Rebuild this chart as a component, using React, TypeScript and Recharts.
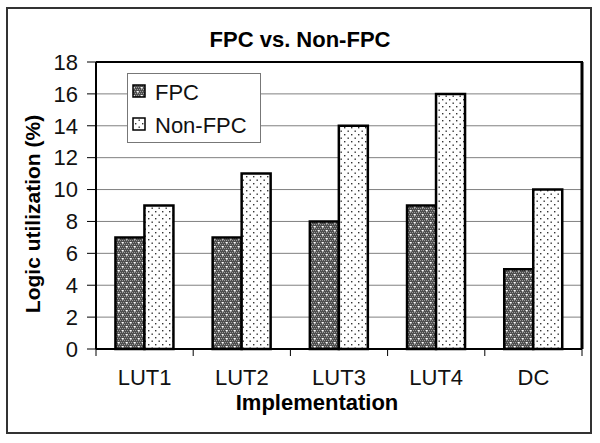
import React from "react"
import { Bar, BarChart, CartesianGrid, Legend, XAxis, YAxis } from "recharts"

const categories = ["LUT1", "LUT2", "LUT3", "LUT4", "DC"]
const fpcValues = [7, 7, 8, 9, 5]
const nonFpcValues = [9, 11, 14, 16, 10]
const yTicks = [0, 2, 4, 6, 8, 10, 12, 14, 16, 18]

const data = categories.map((name, i) => ({
    name,
    fpc: fpcValues[i],
    nonFpc: nonFpcValues[i],
}))

const FONT = '"Liberation Sans", Arial, sans-serif'
const PLOT_LEFT = 96
const PLOT_RIGHT = 582
const PLOT_TOP = 62
const PLOT_BOTTOM = 349
const BAND = (PLOT_RIGHT - PLOT_LEFT) / categories.length

function XTick(props: any) {
    const { x, index, payload } = props
    const half = BAND / 2
    return (
        <g>
            <line x1={x - half} x2={x - half} y1={PLOT_BOTTOM} y2={PLOT_BOTTOM + 7} stroke="#000" />
            {index === categories.length - 1 && (
                <line x1={x + half} x2={x + half} y1={PLOT_BOTTOM} y2={PLOT_BOTTOM + 7} stroke="#000" />
            )}
            <text x={x} y={385} textAnchor="middle" fontSize={22} fontFamily={FONT} fill="#111">
                {payload.value}
            </text>
        </g>
    )
}

function LegendBox() {
    return (
        <svg width={134} height={70} style={{ display: "block" }}>
            <rect x={0.5} y={0.5} width={133} height={69} fill="#fff" stroke="#777" />
            <rect x={6} y={12} width={12} height={12} fill="url(#pFpc)" stroke="#000" strokeWidth={1.5} />
            <text x={28} y={27} fontSize={22} fontFamily={FONT} fill="#111">FPC</text>
            <rect x={6} y={45} width={12} height={12} fill="url(#pNon)" stroke="#000" strokeWidth={1.5} />
            <text x={28} y={60} fontSize={22} fontFamily={FONT} fill="#111">Non-FPC</text>
        </svg>
    )
}

export default function App() {
    return (
        <div style={{ position: "absolute", left: 0, top: 0, width: 600, height: 443, background: "#fff" }}>
            <svg width={0} height={0} style={{ position: "absolute" }}>
                <defs>
                    <pattern id="pFpc" width={8} height={8} patternUnits="userSpaceOnUse">
                        <rect width={8} height={8} fill="#4e4e4e" />
                        {[0, 2, 4, 6].map((px) =>
                            [0, 2, 4, 6].map((py) => (
                                <rect key={`${px}-${py}`} x={px + ((py / 2) % 2)} y={py} width={1} height={1} fill="#9a9a9a" />
                            ))
                        )}
                        <rect x={2} y={2} width={1.6} height={1.6} fill="#fff" />
                        <rect x={6} y={6} width={1.6} height={1.6} fill="#fff" />
                    </pattern>
                    <pattern id="pNon" width={7} height={7} patternUnits="userSpaceOnUse">
                        <rect width={7} height={7} fill="#fff" />
                        <rect x={1} y={1} width={1.4} height={1.4} fill="#333" />
                        <rect x={4.5} y={4.5} width={1.4} height={1.4} fill="#333" />
                    </pattern>
                </defs>
            </svg>
            <BarChart
                width={600}
                height={443}
                data={data}
                margin={{ top: PLOT_TOP, right: 600 - PLOT_RIGHT, bottom: 54, left: 36 }}
                barCategoryGap="20%"
                barGap={0}
            >
                <CartesianGrid vertical={false} stroke="#808080" />
                <XAxis
                    dataKey="name"
                    height={40}
                    tickLine={false}
                    axisLine={{ stroke: "#000", strokeWidth: 2 }}
                    tick={<XTick />}
                    interval={0}
                />
                <YAxis
                    width={60}
                    domain={[0, 18]}
                    ticks={yTicks}
                    interval={0}
                    tickSize={9}
                    tickMargin={9}
                    tick={{ fontSize: 22, fontFamily: FONT, fill: "#111" }}
                    axisLine={{ stroke: "#000", strokeWidth: 2 }}
                    tickLine={{ stroke: "#000" }}
                />
                <Legend
                    layout="vertical"
                    align="center"
                    verticalAlign="middle"
                    content={() => <LegendBox />}
                    wrapperStyle={{ left: 127, top: 73, width: 134, height: 70 }}
                />
                <Bar dataKey="fpc" name="FPC" fill="url(#pFpc)" stroke="#000" strokeWidth={2.5} isAnimationActive={false} />
                <Bar dataKey="nonFpc" name="Non-FPC" fill="url(#pNon)" stroke="#000" strokeWidth={2.5} isAnimationActive={false} />
            </BarChart>
            <svg width={600} height={443} style={{ position: "absolute", left: 0, top: 0, pointerEvents: "none" }}>
                <rect x={7} y={8} width={584} height={425} fill="none" stroke="#333" strokeWidth={2} />
                <line x1={PLOT_LEFT} x2={PLOT_RIGHT + 1} y1={PLOT_TOP} y2={PLOT_TOP} stroke="#000" strokeWidth={2} />
                <line x1={PLOT_RIGHT} x2={PLOT_RIGHT} y1={PLOT_TOP} y2={PLOT_BOTTOM} stroke="#000" strokeWidth={3} />
                <text x={300} y={47} textAnchor="middle" fontSize={22} fontWeight="bold" fontFamily={FONT} fill="#000">
                    FPC vs. Non-FPC
                </text>
                <text
                    x={40}
                    y={214}
                    transform="rotate(-90, 40, 214)"
                    textAnchor="middle"
                    fontSize={21}
                    fontWeight="bold"
                    fontFamily={FONT}
                    fill="#000"
                >
                    Logic utilization (%)
                </text>
                <text x={317} y={410} textAnchor="middle" fontSize={22} fontWeight="bold" fontFamily={FONT} fill="#000">
                    Implementation
                </text>
            </svg>
        </div>
    )
}
